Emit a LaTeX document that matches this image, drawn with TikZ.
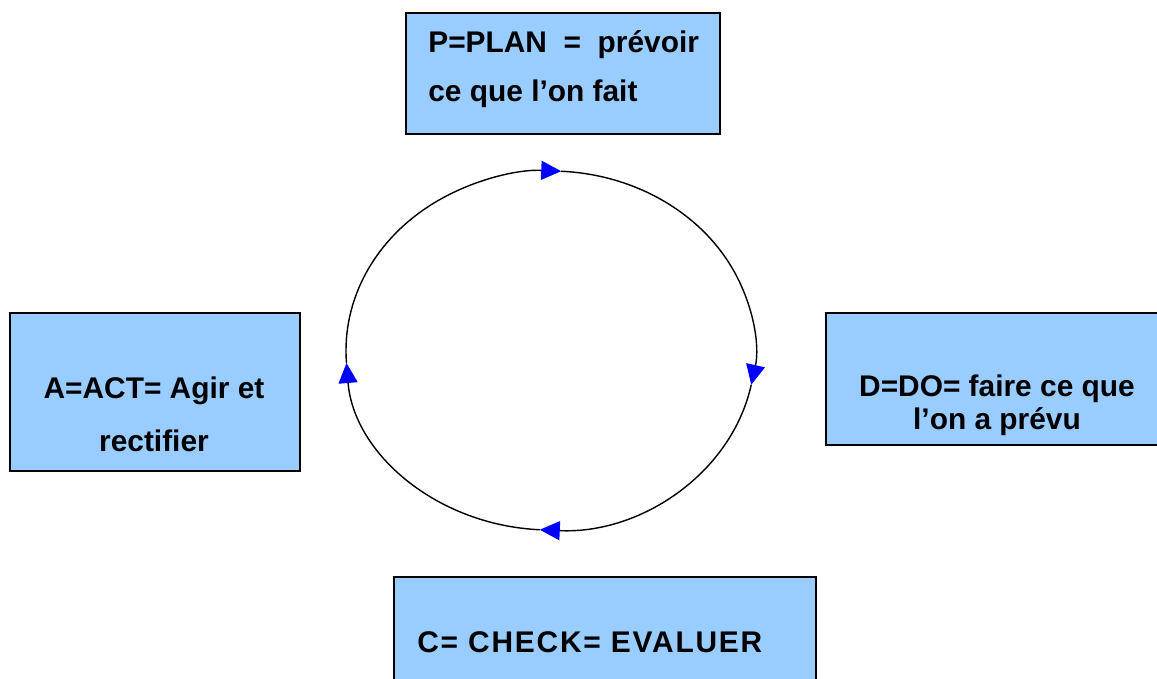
\documentclass[tikz,border=0pt]{standalone}
\usepackage{fontspec}
\setmainfont{Liberation Sans}
\newfontfamily\spacedfont[LetterSpace=6]{Liberation Sans}
\usepackage{tikz}
\usetikzlibrary{arrows.meta}
\usepackage{xcolor}
\definecolor{boxblue}{RGB}{153,204,255}

\begin{document}
\begin{tikzpicture}[
    box/.style = {draw = black, line width = 0.8pt, fill = boxblue, inner sep = 0pt},
    txt/.style = {inner sep = 0pt, font = \bfseries\fontsize{17}{20}\selectfont},
    cyc/.style = {line width = 0.8pt, -{Triangle[color = blue, length = 0.40cm, width = 0.38cm]}}
    ]
    \useasboundingbox (0,0) rectangle (23.14,13.56);

    \node[box, minimum width = 6.28cm, minimum height = 2.42cm] (plan) at (11.26,12.09) {};
    \node[box, minimum width = 6.80cm, minimum height = 2.64cm] (do) at (19.92,5.98) {};
    \node[box, minimum width = 8.44cm, minimum height = 2.40cm] (check) at (12.10,0.82) {};
    \node[box, minimum width = 5.80cm, minimum height = 3.16cm] (act) at (3.10,5.72) {};

    \node[txt, anchor = base west] (plan1) at (8.56,12.50) {P=PLAN\ \ =\ \ prévoir};
    \node[txt, anchor = base west] (plan2) at (8.56,11.52) {ce que l’on fait};
    \node[txt, anchor = base] (do1) at (19.94,5.62) {D=DO= faire ce que};
    \node[txt, anchor = base] (do2) at (19.94,4.96) {l’on a prévu};
    \node[txt, anchor = base west, font = \spacedfont\bfseries\fontsize{17}{20}\selectfont] (check1) at (8.34,0.52) {C= CHECK= EVALUER};
    \node[txt, anchor = base] (act1) at (3.08,5.58) {A=ACT= Agir et};
    \node[txt, anchor = base] (act2) at (3.08,4.52) {rectifier};

    \coordinate (ctr) at (11.01,6.55);
    \draw[cyc] ([shift = {(184:4.09 and 3.59)}]ctr) arc[start angle = 184, end angle = 87, x radius = 4.09, y radius = 3.59];
    \draw[cyc] ([shift = {(87:4.09 and 3.59)}]ctr) arc[start angle = 87, end angle = -11, x radius = 4.09, y radius = 3.59];
    \draw[cyc] ([shift = {(-11:4.09 and 3.59)}]ctr) arc[start angle = -11, end angle = -93, x radius = 4.09, y radius = 3.59];
    \draw[cyc] ([shift = {(-93:4.09 and 3.59)}]ctr) arc[start angle = -93, end angle = -176, x radius = 4.09, y radius = 3.59];

\end{tikzpicture}
\end{document}
